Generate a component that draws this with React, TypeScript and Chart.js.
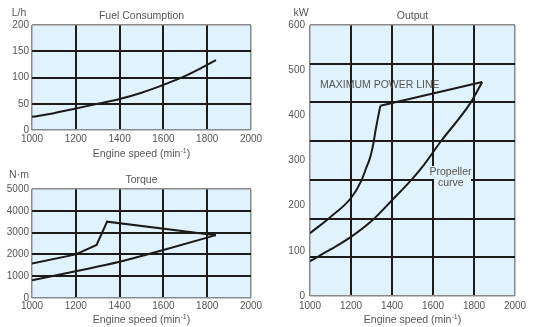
import React, { useEffect, useRef } from "react";
import { Chart, registerables } from "chart.js";

Chart.register(...registerables);

// ---- Data ----
const rpmTicks = [1000, 1200, 1400, 1600, 1800, 2000];

const fuelRpm = [1000, 1100, 1200, 1300, 1400, 1500, 1600, 1700, 1840];
const fuelLh = [25, 32, 41, 50, 59, 71, 86, 103, 133];

const torqueMaxRpm = [1000, 1200, 1295, 1343, 1840];
const torqueMaxNm = [1580, 2000, 2430, 3500, 2880];
const torquePropRpm = [1000, 1200, 1400, 1600, 1800, 1840];
const torquePropNm = [815, 1230, 1660, 2200, 2770, 2890];

const powerMaxCurveRpm = [1000, 1100, 1200, 1250, 1278, 1290, 1305, 1322, 1343];
const powerMaxCurveKw = [139, 175, 217, 255, 288, 302, 328, 372, 421];
const powerMaxLineRpm = [1343, 1840];
const powerMaxLineKw = [421, 474];
const powerPropRpm = [1000, 1100, 1200, 1300, 1400, 1500, 1555, 1636, 1782, 1840];
const powerPropKw = [77, 103, 131, 166, 212, 260, 290, 341, 427, 474];

const BG = "#e0f2fc";
const GRID = "#1c1c1c";
const EDGE = "#8a8a8a";
const TEXT = "#555555";
const FONT = "'Liberation Sans', Arial, sans-serif";

function pts(xs: number[], ys: number[]) {
  return xs.map((x, i) => ({ x, y: ys[i] }));
}

function lineDs(xs: number[], ys: number[], yAxisID = "y", tension = 0.4) {
  return {
    data: pts(xs, ys),
    borderColor: "#1a1a1a",
    borderWidth: 2,
    pointRadius: 0,
    fill: false,
    tension,
    cubicInterpolationMode: tension > 0 ? ("monotone" as const) : ("default" as const),
    yAxisID,
  };
}

function drawXTitle(ctx: CanvasRenderingContext2D, cx: number, cy: number) {
  const p1 = "Engine speed (min";
  const p2 = "-1";
  const p3 = ")";
  ctx.save();
  ctx.fillStyle = TEXT;
  ctx.textBaseline = "middle";
  ctx.textAlign = "left";
  ctx.font = `10.5px ${FONT}`;
  const w1 = ctx.measureText(p1).width;
  const w3 = ctx.measureText(p3).width;
  ctx.font = `7px ${FONT}`;
  const w2 = ctx.measureText(p2).width;
  let x = cx - (w1 + w2 + w3) / 2;
  ctx.font = `10.5px ${FONT}`;
  ctx.fillText(p1, x, cy);
  x += w1;
  ctx.font = `7px ${FONT}`;
  ctx.fillText(p2, x, cy - 3);
  x += w2;
  ctx.font = `10.5px ${FONT}`;
  ctx.fillText(p3, x, cy);
  ctx.restore();
}

function drawText(ctx: CanvasRenderingContext2D, s: string, x: number, y: number, align: CanvasTextAlign = "center") {
  ctx.save();
  ctx.fillStyle = TEXT;
  ctx.font = `10.5px ${FONT}`;
  ctx.textAlign = align;
  ctx.textBaseline = "middle";
  ctx.fillText(s, x, y);
  ctx.restore();
}

const bgPlugin = {
  id: "bgfill",
  beforeDraw(chart: any) {
    const { ctx, chartArea: a } = chart;
    ctx.save();
    ctx.fillStyle = BG;
    ctx.fillRect(a.left, a.top, a.right - a.left, a.bottom - a.top);
    ctx.restore();
  },
};

function edgeColor(ctx: any) {
  const n = ctx.scale.ticks.length;
  return ctx.index === 0 || ctx.index === n - 1 ? EDGE : GRID;
}
function edgeWidth(ctx: any) {
  const n = ctx.scale.ticks.length;
  return ctx.index === 0 || ctx.index === n - 1 ? 1.5 : 2;
}

const plain = (v: any) => String(v);

function xScale(height: number, pad: number) {
  return {
    type: "linear" as const,
    min: 1000,
    max: 2000,
    afterBuildTicks: (s: any) => {
      s.ticks = rpmTicks.map((v) => ({ value: v }));
    },
    afterFit: (s: any) => {
      s.height = height;
    },
    grid: { color: edgeColor, lineWidth: edgeWidth, drawTicks: false },
    border: { display: false },
    ticks: {
      color: TEXT,
      font: { family: FONT, size: 10 },
      padding: pad,
      maxRotation: 0,
      autoSkip: false,
      callback: plain,
    },
  };
}

function yScale(max: number, step: number, width: number) {
  return {
    type: "linear" as const,
    position: "left" as const,
    min: 0,
    max,
    afterFit: (s: any) => {
      s.width = width;
    },
    grid: { color: edgeColor, lineWidth: edgeWidth, drawTicks: false },
    border: { display: false },
    ticks: {
      stepSize: step,
      color: TEXT,
      font: { family: FONT, size: 10 },
      padding: 3,
      callback: plain,
    },
  };
}

function useChart(ref: React.RefObject<HTMLCanvasElement | null>, makeConfig: () => any) {
  useEffect(() => {
    if (!ref.current) return;
    const chart = new Chart(ref.current, makeConfig());
    return () => chart.destroy();
  }, []);
}

function baseOptions(padTop: number, padRight: number) {
  return {
    animation: false,
    responsive: false,
    maintainAspectRatio: false,
    devicePixelRatio: 1,
    layout: { padding: { left: 0, top: padTop, right: padRight, bottom: 0 } },
    plugins: { legend: { display: false }, tooltip: { enabled: false }, title: { display: false } },
    events: [],
  };
}

export default function App() {
  const fuelRef = useRef<HTMLCanvasElement>(null);
  const torqueRef = useRef<HTMLCanvasElement>(null);
  const outRef = useRef<HTMLCanvasElement>(null);

  useChart(fuelRef, () => ({
    type: "line",
    data: { datasets: [lineDs(fuelRpm, fuelLh)] },
    options: {
      ...baseOptions(25, 16),
      scales: { x: xScale(35, 3), y: yScale(200, 50, 32) },
    },
    plugins: [
      bgPlugin,
      {
        id: "txt1",
        afterDraw(chart: any) {
          const ctx = chart.ctx;
          drawText(ctx, "L/h", 19, 13);
          drawText(ctx, "Fuel Consumption", 141.5, 16);
          drawXTitle(ctx, 141.5, 154);
        },
      },
    ],
  }));

  useChart(torqueRef, () => ({
    type: "line",
    data: {
      datasets: [lineDs(torqueMaxRpm, torqueMaxNm, "y", 0), lineDs(torquePropRpm, torquePropNm)],
    },
    options: {
      ...baseOptions(24, 16),
      scales: { x: xScale(29, 2), y: yScale(5000, 1000, 32) },
    },
    plugins: [
      bgPlugin,
      {
        id: "txt2",
        afterDraw(chart: any) {
          const ctx = chart.ctx;
          drawText(ctx, "N·m", 19, 10);
          drawText(ctx, "Torque", 141.5, 15.5);
          drawXTitle(ctx, 141.5, 155);
        },
      },
    ],
  }));

  useChart(outRef, () => {
    const y = yScale(600, 100, 43);
    (y as any).grid = { display: false, drawTicks: false };
    (y as any).ticks.padding = 5;
    return {
      type: "line",
      data: {
        datasets: [
          lineDs(powerMaxCurveRpm, powerMaxCurveKw),
          lineDs(powerMaxLineRpm, powerMaxLineKw, "y", 0),
          lineDs(powerPropRpm, powerPropKw),
        ],
      },
      options: {
        ...baseOptions(25, 19),
        scales: {
          x: xScale(31, 4),
          y,
          yg: {
            type: "linear",
            position: "left",
            min: 0,
            max: 7,
            afterFit: (s: any) => {
              s.width = 0;
            },
            grid: { color: edgeColor, lineWidth: edgeWidth, drawTicks: false },
            border: { display: false },
            ticks: { display: false, stepSize: 1 },
          },
        },
      },
      plugins: [
        bgPlugin,
        {
          id: "txt3",
          afterDatasetsDraw(chart: any) {
            const ctx = chart.ctx;
            ctx.save();
            ctx.fillStyle = BG;
            ctx.fillRect(162, 166, 43, 13);
            ctx.fillRect(167, 177, 37, 12);
            ctx.restore();
            drawText(ctx, "Propeller", 183.5, 172.5);
            drawText(ctx, "curve", 183.8, 183.3);
            drawText(ctx, "MAXIMUM POWER LINE", 53, 85, "left");
          },
          afterDraw(chart: any) {
            const ctx = chart.ctx;
            drawText(ctx, "kW", 34, 13);
            drawText(ctx, "Output", 145.5, 16);
            drawXTitle(ctx, 145.5, 320);
          },
        },
      ],
    };
  });

  return (
    <div style={{ position: "absolute", left: 0, top: 0, width: 534, height: 327, background: "#fff" }}>
      <canvas ref={fuelRef} width={267} height={165} style={{ position: "absolute", left: 0, top: 0, width: 267, height: 165 }} />
      <canvas ref={torqueRef} width={267} height={162} style={{ position: "absolute", left: 0, top: 165, width: 267, height: 162 }} />
      <canvas ref={outRef} width={267} height={327} style={{ position: "absolute", left: 267, top: 0, width: 267, height: 327 }} />
    </div>
  );
}
